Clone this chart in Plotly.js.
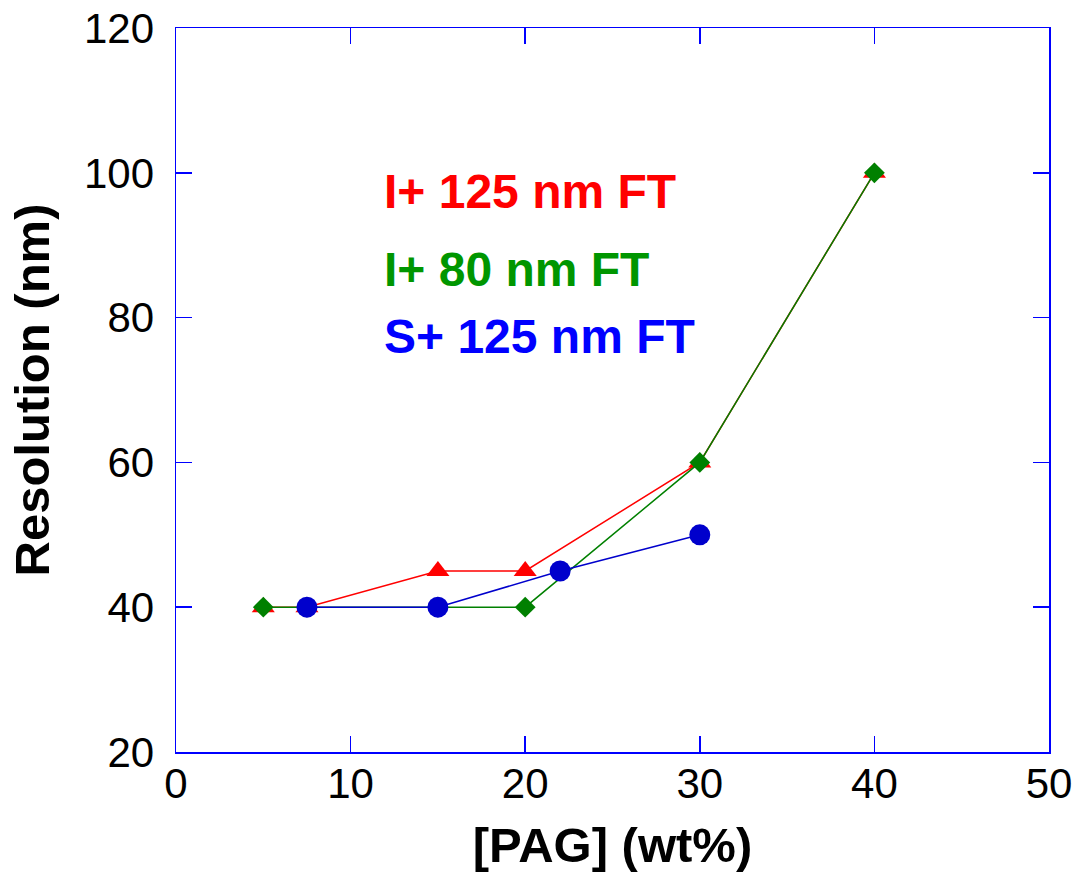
<!DOCTYPE html>
<html><head><meta charset="utf-8">
<script src="https://cdn.plot.ly/plotly-3.0.1.min.js"></script>
<style>html,body{margin:0;padding:0;background:#fff}#chart{width:1076px;height:882px}</style>
</head><body><div id="chart"></div>
<script>
// Data
const pagRedX = [5, 7.5, 15, 20, 30, 40];
const resRedY = [40, 40, 45, 45, 60, 100];
const pagGreenX = [5, 7.5, 15, 20, 30, 40];
const resGreenY = [40, 40, 40, 40, 60, 100];
const pagBlueX = [7.5, 15, 22, 30];
const resBlueY = [40, 40, 45, 50];
const labels = ["I+ 125 nm FT", "I+ 80 nm FT", "S+ 125 nm FT"];
const labelY = [97.4, 86.6, 77.4];
const labelX = 11.8;

const F = "Arial, 'Liberation Sans', sans-serif";
const traces = [
  {x: pagRedX, y: resRedY, mode: 'lines+markers', line: {color: 'rgb(255,0,0)', width: 1.5},
   marker: {symbol: 'triangle-up', size: 20, color: 'rgb(255,0,0)'}},
  {x: pagGreenX, y: resGreenY, mode: 'lines+markers', line: {color: 'rgb(0,128,0)', width: 1.5},
   marker: {symbol: 'diamond', size: 16, color: 'rgb(0,128,0)'}},
  {x: pagBlueX, y: resBlueY, mode: 'lines+markers', line: {color: 'rgb(0,0,204)', width: 1.5},
   marker: {symbol: 'circle', size: 21, color: 'rgb(0,0,204)'}}
];
const colors = ['rgb(255,0,0)', 'rgb(0,150,0)', 'rgb(0,0,255)'];
const annotations = labels.map((t, i) => ({
  x: labelX, y: labelY[i], xref: 'x', yref: 'y', text: '<b>' + t + '</b>', showarrow: false,
  xanchor: 'left', yanchor: 'middle', font: {family: F, size: 48, color: colors[i]}
}));
const axisCommon = {
  showline: true, linecolor: 'rgb(0,0,255)', linewidth: 1.5, mirror: 'ticks',
  ticks: 'inside', ticklen: 16, tickwidth: 1.5, tickcolor: 'rgb(0,0,255)',
  showgrid: false, zeroline: false, tickfont: {family: F, size: 42, color: '#000'}
};
const layout = {
  width: 1076, height: 882, showlegend: false,
  paper_bgcolor: '#fff', plot_bgcolor: '#fff',
  margin: {l: 176, r: 27, t: 28, b: 130},
  xaxis: Object.assign({}, axisCommon, {range: [0, 50], dtick: 10, tick0: 0, ticklabelstandoff: -6,
    title: {text: '<b>[PAG] (wt%)</b>', font: {family: F, size: 49, color: '#000'}, standoff: 22}}),
  yaxis: Object.assign({}, axisCommon, {range: [20, 120], dtick: 20, tick0: 20, ticklabelstandoff: 12,
    title: {text: '<b>Resolution (nm)</b>', font: {family: F, size: 49, color: '#000'}, standoff: 19}}),
  annotations: annotations
};
Plotly.newPlot('chart', traces, layout, {displayModeBar: false, staticPlot: true});
</script></body></html>
